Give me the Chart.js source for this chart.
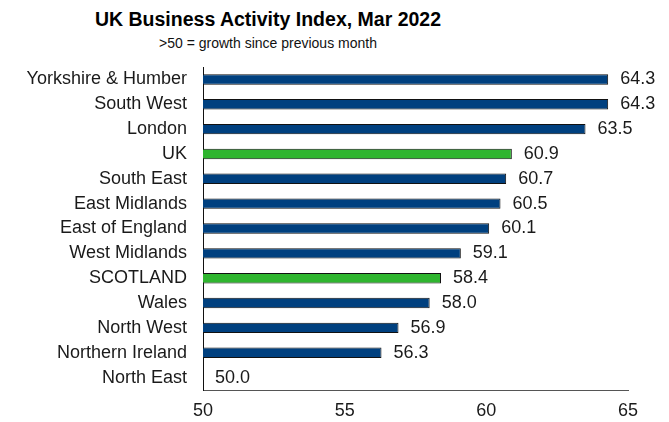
<!DOCTYPE html>
<html>
<head>
<meta charset="utf-8">
<title>UK Business Activity Index, Mar 2022</title>
<script src="https://cdn.jsdelivr.net/npm/chart.js@4"></script>
<style>
  html, body { margin: 0; padding: 0; background: #fff; }
  #wrap { position: relative; width: 669px; height: 422px; }
  .head {
    position: absolute; left: 0; width: 536px; text-align: center;
    font-family: "Liberation Sans", Arial, sans-serif; color: #000; white-space: nowrap;
  }
  #title { top: 9px; font-size: 19.5px; line-height: 20px; font-weight: bold; }
  #sub   { top: 36px; font-size: 14px; line-height: 14px; color: #111; }
  canvas { position: absolute; left: 0; top: 0; }
</style>
</head>
<body>
<div id="wrap">
  <div id="title" class="head">UK Business Activity Index, Mar 2022</div>
  <div id="sub" class="head">&gt;50 = growth since previous month</div>
  <canvas id="chart" width="669" height="422"></canvas>
</div>
<script>
/* ── Data ────────────────────────────────────────── */
const regions = [
  'Yorkshire & Humber', 'South West', 'London', 'UK', 'South East',
  'East Midlands', 'East of England', 'West Midlands', 'SCOTLAND',
  'Wales', 'North West', 'Northern Ireland', 'North East'
];
const activity = [64.3, 64.3, 63.5, 60.9, 60.7, 60.5, 60.1, 59.1, 58.4, 58.0, 56.9, 56.3, 50.0];
const highlighted = ['UK', 'SCOTLAND'];
const xTicks = [50, 55, 60, 65];

const BLUE  = '#00407f';
const GREEN = '#2fb52f';
const FONT  = '"Liberation Sans", Arial, sans-serif';

/* ── Value labels at bar ends ────────────────────── */
const valueLabels = {
  id: 'valueLabels',
  afterDatasetsDraw(chart) {
    const ctx = chart.ctx;
    const meta = chart.getDatasetMeta(0);
    ctx.save();
    ctx.font = '18px ' + FONT;
    ctx.fillStyle = '#1a1a1a';
    ctx.textAlign = 'left';
    ctx.textBaseline = 'middle';
    meta.data.forEach((bar, i) => {
      ctx.fillText(activity[i].toFixed(1), bar.x + 12, bar.y);
    });
    ctx.restore();
  }
};

new Chart(document.getElementById('chart'), {
  type: 'bar',
  data: {
    labels: regions,
    datasets: [{
      data: activity,
      backgroundColor: regions.map(r => highlighted.includes(r) ? GREEN : BLUE),
      borderColor: '#111',
      borderWidth: 1,
      borderSkipped: false,
      categoryPercentage: 1,
      barPercentage: 0.42
    }]
  },
  options: {
    indexAxis: 'y',
    responsive: false,
    animation: false,
    layout: { padding: { top: 67, right: 41, bottom: 0, left: 0 } },
    plugins: {
      legend: { display: false },
      tooltip: { enabled: false }
    },
    scales: {
      x: {
        min: 50, max: 65,
        afterBuildTicks: s => { s.ticks = xTicks.map(v => ({ value: v })); },
        afterFit: s => { s.height = 32; },
        grid: { display: false, drawTicks: false },
        border: { color: '#555', width: 1 },
        ticks: { color: '#1a1a1a', padding: 10, font: { family: FONT, size: 18 } }
      },
      y: {
        afterFit: s => { s.width = 203; },
        grid: { display: false, drawTicks: false },
        border: { color: '#111', width: 1 },
        ticks: { color: '#1a1a1a', padding: 16, font: { family: FONT, size: 18 } }
      }
    }
  },
  plugins: [valueLabels]
});
</script>
</body>
</html>
